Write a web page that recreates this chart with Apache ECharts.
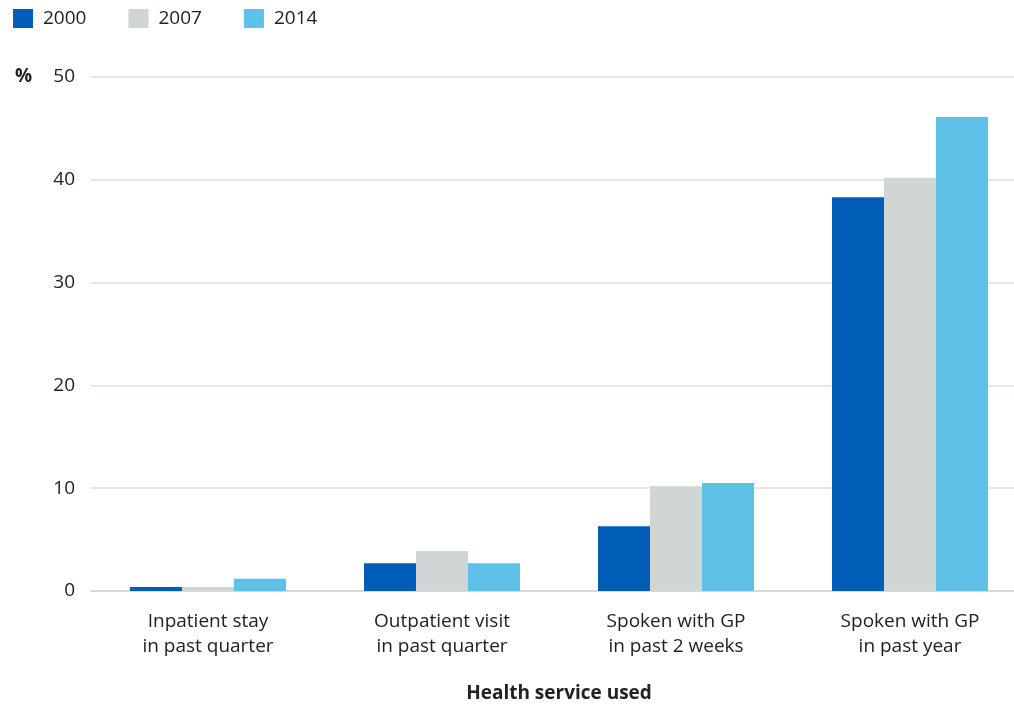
<!DOCTYPE html>
<html>
<head>
<meta charset="utf-8">
<script src="https://cdn.jsdelivr.net/npm/echarts@6/dist/echarts.min.js"></script>
<style>
html,body{margin:0;padding:0;background:#fff;}
#chart{width:1014px;height:704px;}
</style>
</head>
<body>
<div id="chart"></div>
<script>
const categories = ['Inpatient stay\nin past quarter', 'Outpatient visit\nin past quarter', 'Spoken with GP\nin past 2 weeks', 'Spoken with GP\nin past year'];
const seriesNames = ['2000', '2007', '2014'];
const values2000 = [0.4, 2.7, 6.3, 38.3];
const values2007 = [0.4, 3.9, 10.2, 40.2];
const values2014 = [1.2, 2.7, 10.5, 46.1];
const yTicks = [0, 10, 20, 30, 40, 50];
const colors = ['#005EB8', '#D0D5D6', '#5EC1E8'];
const FONT = '"Open Sans", "Noto Sans", sans-serif';
const TEXT = '#222222';

const chart = echarts.init(document.getElementById('chart'), null, {renderer: 'canvas'});
const allValues = [values2000, values2007, values2014];
chart.setOption({
  animation: false,
  textStyle: {fontFamily: FONT, color: TEXT},
  legend: {
    left: 13, top: 9, padding: 0,
    itemWidth: 20, itemHeight: 19,
    itemGap: 42,
    icon: 'rect',
    textStyle: {fontSize: 19, color: TEXT, fontFamily: FONT, padding: [0, 0, 0, 5]},
    data: seriesNames
  },
  graphic: [{
    type: 'text', left: 15, top: 67,
    style: {text: '%', font: 'bold 19px ' + FONT, fill: TEXT}
  }],
  grid: {left: 91, width: 936, top: 77, bottom: 113, containLabel: false, outerBoundsMode: 'none'},
  xAxis: {
    type: 'category',
    data: categories,
    name: 'Health service used',
    nameLocation: 'middle',
    nameGap: 93,
    nameTextStyle: {fontSize: 19, fontWeight: 'bold', color: TEXT, fontFamily: FONT},
    axisLine: {show: true, lineStyle: {color: '#d6dada', width: 2}},
    axisTick: {show: false},
    axisLabel: {fontSize: 19, color: TEXT, lineHeight: 25, margin: 18, fontFamily: FONT, interval: 0}
  },
  yAxis: {
    type: 'value',
    min: yTicks[0], max: yTicks[yTicks.length - 1], interval: 10,
    axisLine: {show: false},
    axisTick: {show: false},
    axisLabel: {fontSize: 19, color: TEXT, margin: 16, fontFamily: FONT},
    splitLine: {lineStyle: {color: '#dde1e1', width: 1.5}}
  },
  series: seriesNames.map((n, i) => ({
    name: n,
    type: 'bar',
    data: allValues[i],
    barWidth: 52,
    barGap: '0%',
    itemStyle: {color: colors[i]}
  }))
});
</script>
</body>
</html>
